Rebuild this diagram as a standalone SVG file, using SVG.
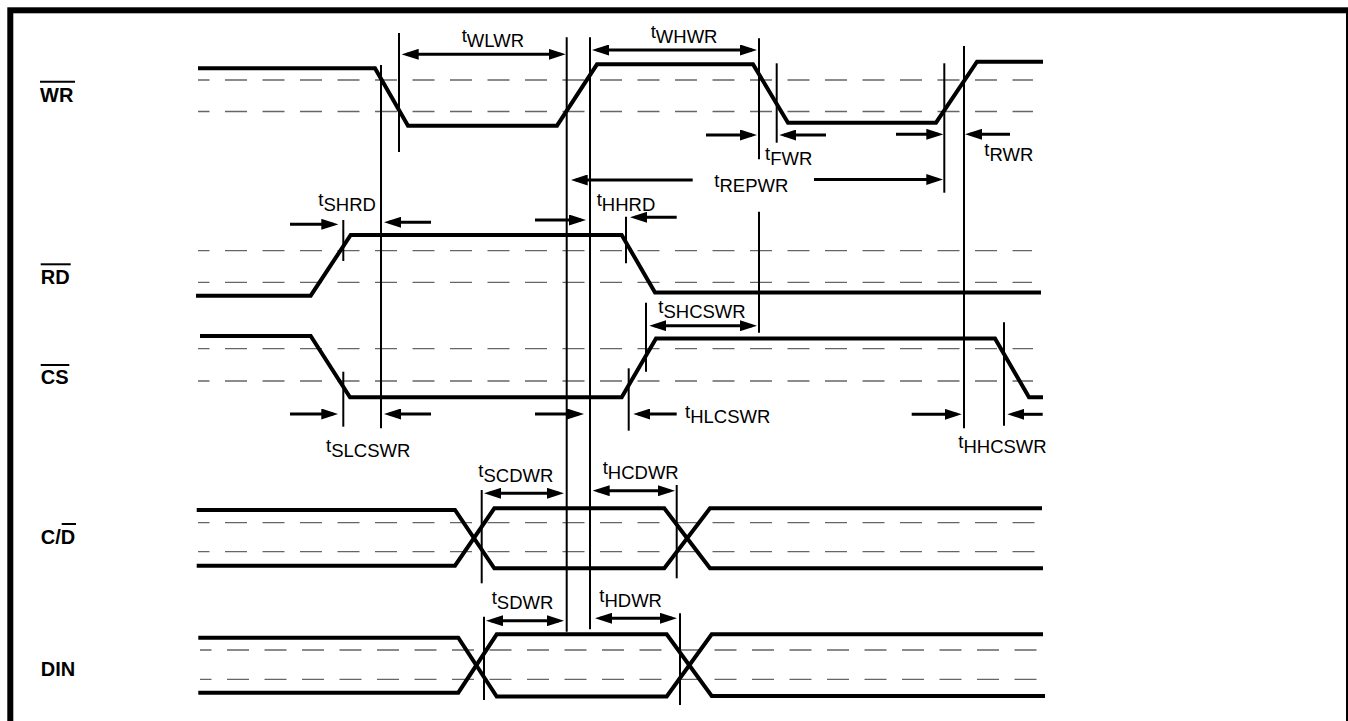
<svg xmlns="http://www.w3.org/2000/svg" width="1348" height="721" viewBox="0 0 1348 721">
<style>
.frame{fill:none;stroke:#000;stroke-width:6}
.sig{fill:none;stroke:#000;stroke-width:4;stroke-linejoin:miter;stroke-linecap:butt}
.dash{fill:none;stroke:#666;stroke-width:1.3;stroke-dasharray:22 15.5;stroke-dashoffset:10.5}
.vl{stroke:#000;stroke-width:2}
.ar{stroke:#000;stroke-width:3;fill:none}
.ar1{marker-end:url(#ah)}
.ar2{marker-start:url(#ah);marker-end:url(#ah)}
.lbl{font-family:"Liberation Sans",Arial,sans-serif;font-weight:bold;font-size:20px;fill:#000}
.tl{font-family:"Liberation Sans",Arial,sans-serif;font-size:18.5px;fill:#000}
.ov{stroke:#000;stroke-width:2}
</style>
<defs>
<marker id="ah" markerUnits="userSpaceOnUse" markerWidth="17" markerHeight="11" refX="12" refY="5.5" orient="auto-start-reverse" viewBox="0 0 17 11">
<path d="M0,0 L17,5.5 L0,11 z" fill="#000"/>
</marker>
</defs>
<rect class="frame" x="10.3" y="10.3" width="1338.7" height="800"/>

<g id="sig-WR">
<text class="lbl" x="40" y="101.7">WR</text>
<line class="ov" x1="40" y1="81.7" x2="75" y2="81.7"/>
<line class="dash" x1="198" y1="80" x2="1033" y2="80"/>
<line class="dash" x1="198" y1="111.5" x2="1033" y2="111.5"/>
<polyline class="sig" points="198,68.3 375,68.3 408,125.7 557,125.7 597,64.3 753,64.3 788,122.7 936,122.7 977,61.7 1043,61.7"/>
</g>

<g id="sig-RD">
<text class="lbl" x="40.7" y="284.3">RD</text>
<line class="ov" x1="40.7" y1="264.3" x2="70.7" y2="264.3"/>
<line class="dash" x1="198" y1="250.7" x2="1032" y2="250.7"/>
<line class="dash" x1="198" y1="282.3" x2="1032" y2="282.3"/>
<polyline class="sig" points="196,295.7 310.7,295.7 350.7,235 621.7,235 655,292.5 1041,292.5"/>
</g>

<g id="sig-CS">
<text class="lbl" x="40.7" y="384.3">CS</text>
<line class="ov" x1="40.7" y1="365" x2="69.3" y2="365"/>
<line class="dash" x1="198" y1="348.7" x2="1033" y2="348.7"/>
<line class="dash" x1="198" y1="381" x2="1033" y2="381"/>
<polyline class="sig" points="200,336 310.7,336 350,397.3 621.7,397.3 656,338.5 995,338.5 1029,397.3 1043,397.3"/>
</g>

<g id="sig-CD">
<text class="lbl" x="40.7" y="544">C/D</text>
<line class="ov" x1="61.7" y1="524" x2="76" y2="524"/>
<line class="dash" x1="198" y1="522.7" x2="1040" y2="522.7"/>
<line class="dash" x1="198" y1="551.7" x2="1040" y2="551.7"/>
<polyline class="sig" points="196.7,510 455,510 494.3,568.3 664.3,568.3 710,508.3 1042,508.3"/>
<polyline class="sig" points="196.7,565.7 455,565.7 494.3,508.3 664.3,508.3 710,568.3 1043,568.3"/>
</g>

<g id="sig-DIN">
<text class="lbl" x="40.7" y="676">DIN</text>
<line class="dash" x1="200" y1="650" x2="1042" y2="650"/>
<line class="dash" x1="200" y1="679.3" x2="1042" y2="679.3"/>
<polyline class="sig" points="198.3,637.7 458.3,637.7 496.7,696.5 666.7,696.5 711.7,634.3 1043,634.3"/>
<polyline class="sig" points="198.3,692.7 458.3,692.7 496.7,634.3 666.7,634.3 711.7,696 1045,696"/>
</g>

<g id="connectors">
<line class="vl" x1="381" y1="65" x2="381" y2="428.3"/>
<line class="vl" x1="399" y1="33" x2="399" y2="152"/>
<line class="vl" x1="566.7" y1="37.3" x2="566.7" y2="631.7"/>
<line class="vl" x1="590" y1="37.3" x2="590" y2="629.3"/>
<line class="vl" x1="759" y1="38.3" x2="759" y2="159.3"/>
<line class="vl" x1="759" y1="211.7" x2="759" y2="332.7"/>
<line class="vl" x1="776.7" y1="63.3" x2="776.7" y2="142.7"/>
<line class="vl" x1="944.3" y1="63.3" x2="944.3" y2="192.7"/>
<line class="vl" x1="964" y1="46" x2="964" y2="428.3"/>
<line class="vl" x1="343.3" y1="220" x2="343.3" y2="261"/>
<line class="vl" x1="343.3" y1="371.7" x2="343.3" y2="426.7"/>
<line class="vl" x1="626" y1="216.7" x2="626" y2="263.3"/>
<line class="vl" x1="646" y1="302.7" x2="646" y2="371.7"/>
<line class="vl" x1="628.7" y1="368.3" x2="628.7" y2="430.7"/>
<line class="vl" x1="1004" y1="322.3" x2="1004" y2="425.7"/>
<line class="vl" x1="481.7" y1="490" x2="481.7" y2="583.3"/>
<line class="vl" x1="676.7" y1="485" x2="676.7" y2="578.3"/>
<line class="vl" x1="484" y1="616.7" x2="484" y2="700"/>
<line class="vl" x1="680" y1="613.3" x2="680" y2="705"/>

<line class="ar ar2" x1="406.7" y1="54.3" x2="560.7" y2="54.3"/>
<line class="ar ar2" x1="597" y1="50" x2="752" y2="50"/>
<line class="ar ar1" x1="706" y1="135" x2="752" y2="135"/>
<line class="ar ar1" x1="826" y1="135" x2="784.3" y2="135"/>
<line class="ar ar1" x1="896" y1="134.3" x2="938.3" y2="134.3"/>
<line class="ar ar1" x1="1010" y1="134.3" x2="970" y2="134.3"/>
<line class="ar ar1" x1="692.7" y1="180" x2="575.7" y2="180"/>
<line class="ar ar1" x1="814" y1="179.5" x2="938.3" y2="179.5"/>
<line class="ar ar1" x1="290" y1="224.3" x2="333.3" y2="224.3"/>
<line class="ar ar1" x1="431" y1="222.3" x2="389" y2="222.3"/>
<line class="ar ar1" x1="535" y1="220" x2="581" y2="220"/>
<line class="ar ar1" x1="676.7" y1="217.3" x2="635" y2="217.3"/>
<line class="ar ar2" x1="654.3" y1="325.7" x2="752" y2="325.7"/>
<line class="ar ar1" x1="290" y1="414" x2="333.3" y2="414"/>
<line class="ar ar1" x1="431" y1="414" x2="389" y2="414"/>
<line class="ar ar1" x1="535" y1="414" x2="579" y2="414"/>
<line class="ar ar1" x1="676.7" y1="414" x2="638.3" y2="414"/>
<line class="ar ar1" x1="911.7" y1="414.3" x2="956.7" y2="414.3"/>
<line class="ar ar1" x1="1042.7" y1="414.3" x2="1012.3" y2="414.3"/>
<line class="ar ar2" x1="489" y1="493.3" x2="559" y2="493.3"/>
<line class="ar ar2" x1="597.7" y1="490.7" x2="670" y2="490.7"/>
<line class="ar ar2" x1="491" y1="620.7" x2="559" y2="620.7"/>
<line class="ar ar2" x1="600" y1="618.3" x2="672" y2="618.3"/>
</g>

<g id="labels">
<text class="tl" x="461.7" y="41.7">t<tspan dy="5">WLWR</tspan></text>
<text class="tl" x="650.7" y="38.3">t<tspan dy="5">WHWR</tspan></text>
<text class="tl" x="765" y="160">t<tspan dy="5">FWR</tspan></text>
<text class="tl" x="984.3" y="156">t<tspan dy="5">RWR</tspan></text>
<text class="tl" x="714.3" y="186.7">t<tspan dy="5">REPWR</tspan></text>
<text class="tl" x="318.3" y="206">t<tspan dy="5">SHRD</tspan></text>
<text class="tl" x="596.7" y="205.7">t<tspan dy="5">HHRD</tspan></text>
<text class="tl" x="326" y="451.7">t<tspan dy="5">SLCSWR</tspan></text>
<text class="tl" x="658.3" y="312.7">t<tspan dy="5">SHCSWR</tspan></text>
<text class="tl" x="685" y="417.7">t<tspan dy="5">HLCSWR</tspan></text>
<text class="tl" x="958.3" y="448.3">t<tspan dy="5">HHCSWR</tspan></text>
<text class="tl" x="478.3" y="476.7">t<tspan dy="5">SCDWR</tspan></text>
<text class="tl" x="602.7" y="474.3">t<tspan dy="5">HCDWR</tspan></text>
<text class="tl" x="491.7" y="604.3">t<tspan dy="5">SDWR</tspan></text>
<text class="tl" x="599.3" y="602.3">t<tspan dy="5">HDWR</tspan></text>
</g>
</svg>
